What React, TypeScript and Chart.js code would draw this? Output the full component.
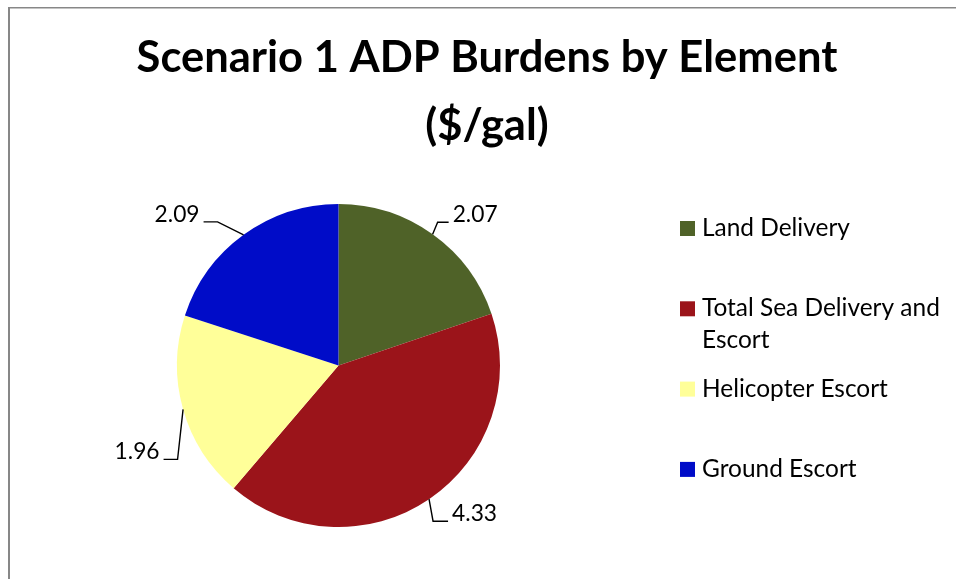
import React, { useEffect, useRef } from "react";
import { Chart, registerables } from "chart.js";

Chart.register(...registerables);

// ---- data ----
const categories = ["Land Delivery", "Total Sea Delivery and Escort", "Helicopter Escort", "Ground Escort"];
const legendLines = [["Land Delivery"], ["Total Sea Delivery and", "Escort"], ["Helicopter Escort"], ["Ground Escort"]];
const values = [2.07, 4.33, 1.96, 2.09];
const valueLabels = ["2.07", "4.33", "1.96", "2.09"];
const titleLines = ["Scenario 1 ADP Burdens by Element", "($/gal)"];

// ---- styles / layout ----
const colors = ["#4F6228", "#9B141A", "#FFFF99", "#000CC8"];
const W = 956;
const H = 579;
const FAMILY = "Lato, 'Open Sans', sans-serif";
// leader-line elbows relative to the slice's outer edge point at its mid-angle
const labelLayout = [
  { dx: 5, dy: -12, side: 1, hlen: 11 },
  { dx: 4, dy: 22, side: 1, hlen: 15 },
  { dx: -5.5, dy: 50, side: -1, hlen: 14 },
  { dx: -26, dy: -13, side: -1, hlen: 14 },
];

function fitSize(ctx: CanvasRenderingContext2D, text: string, weight: string, target: number) {
  ctx.font = `${weight} 100px ${FAMILY}`;
  const w = ctx.measureText(text).width;
  return (100 * target) / w;
}

const decorPlugin = {
  id: "decor",
  beforeDraw(chart: any) {
    const ctx: CanvasRenderingContext2D = chart.ctx;
    ctx.save();
    ctx.fillStyle = "#ffffff";
    ctx.fillRect(0, 0, W, H);
    ctx.fillStyle = "#878787";
    ctx.fillRect(8, 7, W - 8, 1.5);
    ctx.fillRect(8, 7, 2, H - 7);
    ctx.restore();
  },
  afterDatasetsDraw(chart: any) {
    const ctx: CanvasRenderingContext2D = chart.ctx;
    ctx.save();
    ctx.fillStyle = "#000";
    // title
    const tSize = fitSize(ctx, titleLines[0], "bold", 701);
    ctx.font = `bold ${tSize}px ${FAMILY}`;
    ctx.textAlign = "center";
    ctx.textBaseline = "alphabetic";
    const titleBaselines = [72, 140];
    titleLines.forEach((t, i) => ctx.fillText(t, 487, titleBaselines[i]));

    // data labels with leader lines
    const meta = chart.getDatasetMeta(0);
    const lSize = fitSize(ctx, "2.07", "normal", 45);
    ctx.font = `normal ${lSize}px ${FAMILY}`;
    ctx.strokeStyle = "#000";
    ctx.lineWidth = 1.4;
    meta.data.forEach((arc: any, i: number) => {
      const p = arc.getProps(["x", "y", "startAngle", "endAngle", "outerRadius"], true);
      const mid = (p.startAngle + p.endAngle) / 2;
      const ex = p.x + Math.cos(mid) * p.outerRadius;
      const ey = p.y + Math.sin(mid) * p.outerRadius;
      const L = labelLayout[i];
      const bx = ex + L.dx;
      const by = ey + L.dy;
      const hx = bx + L.side * L.hlen;
      ctx.beginPath();
      ctx.moveTo(ex, ey);
      ctx.lineTo(bx, by);
      ctx.lineTo(hx, by);
      ctx.stroke();
      ctx.textAlign = L.side > 0 ? "left" : "right";
      ctx.fillText(valueLabels[i], hx + L.side * 4, by);
    });

    // legend
    const gSize = fitSize(ctx, "Total Sea Delivery and", "normal", 238);
    ctx.font = `normal ${gSize}px ${FAMILY}`;
    ctx.textAlign = "left";
    const legendFirst = 236;
    const legendStep = 80.3;
    legendLines.forEach((lines, i) => {
      const base = legendFirst + i * legendStep;
      ctx.fillStyle = colors[i];
      ctx.fillRect(680, base - 15, 15, 15);
      ctx.fillStyle = "#000";
      lines.forEach((ln, j) => ctx.fillText(ln, 702, base + j * 31.5));
    });
    ctx.restore();
  },
};

export default function App() {
  const ref = useRef<HTMLCanvasElement | null>(null);
  useEffect(() => {
    if (!ref.current) return;
    const chart = new Chart(ref.current, {
      type: "pie",
      data: {
        labels: categories,
        datasets: [
          {
            data: values,
            backgroundColor: colors,
            borderWidth: 0,
          },
        ],
      },
      options: {
        responsive: false,
        animation: false,
        devicePixelRatio: 1,
        layout: { padding: { left: 177, right: W - 500, top: 204, bottom: H - 527 } },
        plugins: {
          legend: { display: false },
          title: { display: false },
          tooltip: { enabled: false },
        },
      },
      plugins: [decorPlugin],
    });
    return () => chart.destroy();
  }, []);
  return (
    <div style={{ position: "fixed", left: 0, top: 0, width: W, height: H, background: "#fff" }}>
      <canvas ref={ref} width={W} height={H} style={{ display: "block", width: W, height: H }} />
    </div>
  );
}
